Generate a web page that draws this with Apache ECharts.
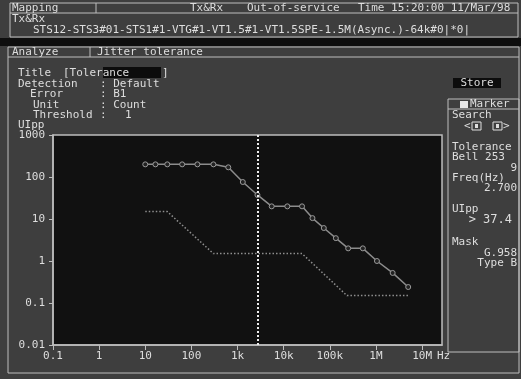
<!DOCTYPE html>
<html>
<head>
<meta charset="utf-8">
<script src="https://cdn.jsdelivr.net/npm/echarts@6/dist/echarts.min.js"></script>
<style>
  html, body { margin: 0; padding: 0; background: #3e3e3e; }
  #chart { width: 521px; height: 379px; }
</style>
</head>
<body>
<div id="chart"></div>
<script>
// measured tolerance points (Hz, UIpp)
const freqHz = [10, 16.6, 30, 63, 135, 300, 630, 1300, 2700, 5500, 12000, 25000,
  42000, 74000, 135000, 250000, 520000, 1050000, 2300000, 5000000]
const uipp = [200, 200, 200, 200, 200, 200, 170, 76, 37.4, 20, 20, 20,
  10.5, 6.1, 3.5, 2.0, 2.0, 1.0, 0.52, 0.24]

// G.958 type B mask
const maskFreq = [10, 30, 300, 25000, 235000, 5000000]
const maskUipp = [15, 15, 1.5, 1.5, 0.15, 0.15]

// marker cursor
const cursorFreq = 2700

const xTickValues = [0.1, 1, 10, 100, 1e3, 1e4, 1e5, 1e6, 1e7]
const xTickLabels = ['0.1', '1', '10', '100', '1k', '10k', '100k', '1M', '10M']
const yTickValues = [0.01, 0.1, 1, 10, 100, 1000]
const yTickLabels = ['0.01', '0.1', '1', '10', '100', '1000']

const FG = '#dedede'
const LINE = '#bdbdbd'
const FONT = '"DejaVu Sans Mono", "Liberation Mono", monospace'

function tickLabel(values, labels) {
  return (v) => {
    const i = values.findIndex((t) => Math.abs(Math.log10(t) - Math.log10(v)) < 1e-6)
    return i >= 0 ? labels[i] : ''
  }
}

function txt(x, y, text, extra) {
  return {
    type: 'text', x, y, silent: true,
    style: Object.assign({
      text, fill: FG, font: '11px ' + FONT, verticalAlign: 'middle', align: 'left'
    }, extra || {})
  }
}
function box(x, y, w, h, fill, stroke) {
  return {
    type: 'rect', silent: true,
    shape: { x, y, width: w, height: h },
    style: { fill: fill || 'none', stroke: stroke || null, lineWidth: 1 }
  }
}
function hline(x1, x2, y) {
  return { type: 'line', silent: true, shape: { x1, y1: y, x2, y2: y }, style: { stroke: LINE, lineWidth: 1 } }
}
function vline(x, y1, y2) {
  return { type: 'line', silent: true, shape: { x1: x, y1, x2: x, y2 }, style: { stroke: LINE, lineWidth: 1 } }
}

const chrome = [
  // status header
  box(10, 3, 508, 34, null, LINE),
  hline(10, 518, 13),
  vline(96, 3, 13),
  txt(12, 8, 'Mapping'),
  txt(190, 8, 'Tx&Rx'),
  txt(247, 8, 'Out-of-service'),
  txt(358, 8, 'Time 15:20:00 11/Mar/98'),
  txt(12, 19, 'Tx&Rx'),
  txt(33, 30, 'STS12-STS3#01-STS1#1-VTG#1-VT1.5#1-VT1.5SPE-1.5M(Async.)-64k#0|*0|'),
  box(0, 38, 521, 8, '#0e0e0e'),
  // analyze panel
  box(8, 47, 511, 326, null, LINE),
  hline(8, 519, 57),
  vline(90, 47, 57),
  txt(12, 52, 'Analyze'),
  txt(97, 52, 'Jitter tolerance'),
  // settings block
  box(103, 67, 58, 11, '#0c0c0c'),
  txt(18, 73, 'Title'),
  txt(63, 73, '[Tolerance'),
  txt(162, 73, ']'),
  txt(18, 84, 'Detection'),
  txt(100, 84, ': Default'),
  txt(30, 94, 'Error'),
  txt(100, 94, ': B1'),
  txt(33, 105, 'Unit'),
  txt(100, 105, ': Count'),
  txt(33, 115, 'Threshold'),
  txt(100, 115, ':'),
  txt(125, 115, '1'),
  txt(18, 125, 'UIpp'),
  // store button
  box(453, 78, 48, 10, '#0c0c0c'),
  txt(477, 83, 'Store', { align: 'center' }),
  // marker box
  box(448, 99, 71, 253, null, LINE),
  hline(448, 519, 109),
  box(460, 101, 8, 7, '#e6e6e6'),
  txt(470, 104, 'Marker'),
  txt(452, 115, 'Search'),
  txt(464, 126, '<'),
  box(472, 122, 9, 8, null, FG),
  box(475, 124, 3, 4, FG),
  box(493, 122, 9, 8, null, FG),
  box(496, 124, 3, 4, FG),
  txt(503, 126, '>'),
  txt(452, 147, 'Tolerance'),
  txt(452, 157, 'Bell 253'),
  txt(517, 168, '9', { align: 'right' }),
  txt(452, 178, 'Freq(Hz)'),
  txt(517, 188, '2.700', { align: 'right' }),
  txt(452, 209, 'UIpp'),
  txt(512, 220, '> 37.4', { align: 'right', font: '12px ' + FONT }),
  txt(452, 242, 'Mask'),
  txt(517, 253, 'G.958', { align: 'right' }),
  txt(517, 263, 'Type B', { align: 'right' }),
  // axis unit
  txt(437, 356, 'Hz')
]

const chart = echarts.init(document.getElementById('chart'))
chart.setOption({
  animation: false,
  backgroundColor: '#3e3e3e',
  textStyle: { fontFamily: FONT },
  grid: {
    left: 53, right: 79, top: 135, bottom: 34,
    show: true, backgroundColor: '#111111', borderColor: LINE, borderWidth: 1.5,
    outerBoundsMode: 'none'
  },
  xAxis: {
    type: 'log', logBase: 10, min: 0.1, max: 2.7e7, interval: 1,
    axisLine: { show: true, lineStyle: { color: LINE, width: 1.5 } },
    axisTick: { show: true, inside: false, length: 5, lineStyle: { color: LINE } },
    axisLabel: {
      color: FG, fontSize: 11, fontFamily: FONT, margin: 6,
      showMaxLabel: false, formatter: tickLabel(xTickValues, xTickLabels)
    },
    splitLine: { show: false },
    minorTick: { show: false }
  },
  yAxis: {
    type: 'log', logBase: 10, min: 0.01, max: 1000, interval: 1,
    axisLine: { show: true, lineStyle: { color: LINE, width: 1.5 } },
    axisTick: { show: true, inside: false, length: 4, lineStyle: { color: LINE } },
    axisLabel: {
      color: FG, fontSize: 11, fontFamily: FONT, margin: 8,
      formatter: tickLabel(yTickValues, yTickLabels)
    },
    splitLine: { show: false }
  },
  series: [
    {
      name: 'Mask',
      type: 'line',
      data: maskFreq.map((f, i) => [f, maskUipp[i]]),
      symbol: 'none',
      lineStyle: { color: '#8f8f8f', width: 1.5, type: [1.5, 2] }
    },
    {
      name: 'Tolerance',
      type: 'line',
      data: freqHz.map((f, i) => [f, uipp[i]]),
      symbol: 'circle',
      symbolSize: 5,
      showAllSymbol: true,
      itemStyle: { color: '#222222', borderColor: '#9a9a9a', borderWidth: 1 },
      lineStyle: { color: '#8c8c8c', width: 1.5 },
      markLine: {
        silent: true,
        symbol: ['none', 'none'],
        label: { show: false },
        lineStyle: { color: '#ececec', width: 2, type: [2, 2] },
        data: [{ xAxis: cursorFreq }]
      }
    }
  ],
  graphic: { elements: chrome }
})
</script>
</body>
</html>
